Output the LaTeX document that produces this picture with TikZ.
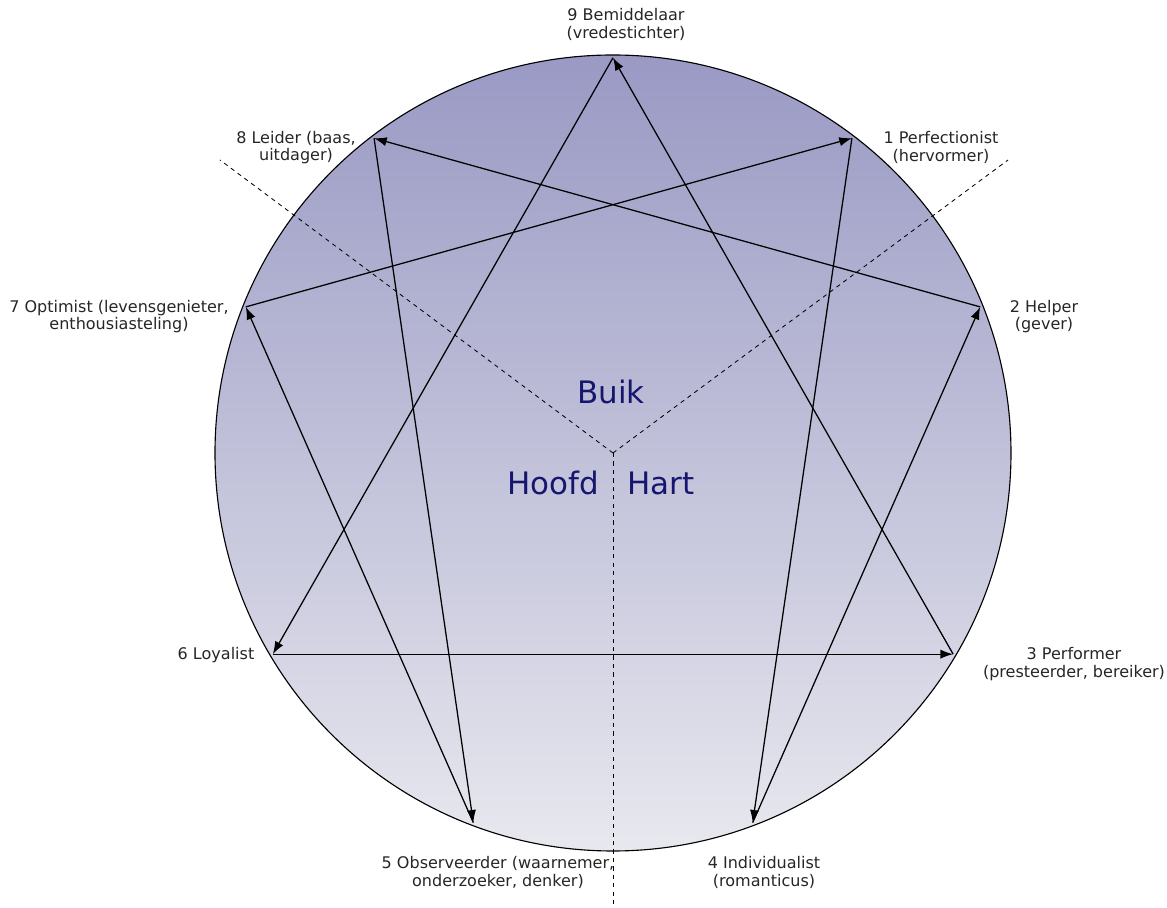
\documentclass[tikz,border=0pt]{standalone}
\usepackage{fontspec}
\setmainfont{DejaVu Sans}
\usetikzlibrary{arrows.meta}
\pgfdeclarelayer{bg}
\pgfsetlayers{bg,main}
\definecolor{ringtop}{RGB}{153,153,196}
\definecolor{ringbot}{RGB}{232,232,239}
\definecolor{centrenavy}{RGB}{22,22,110}
\tikzset{
    typelabel/.style={align=center, inner sep=0mm, text=black!85, font=\fontsize{11.4}{12.3}\selectfont},
    centrelabel/.style={inner sep=0mm, text=centrenavy, font=\fontsize{22}{24}\selectfont},
    link/.style={line width=0.9pt, -{Latex[length=9pt,width=6.5pt]}},
    split/.style={line width=0.6pt, dash pattern=on 3pt off 3pt}
}

\begin{document}
\begin{tikzpicture}
        \useasboundingbox (-15.325cm, 11.325cm) rectangle (13.850cm, -11.375cm);
        % points on the ring
        \coordinate (p9) at (90:9.88cm);
        \coordinate (p1) at (52.8:9.88cm);
        \coordinate (p2) at (21.7:9.88cm);
        \coordinate (p3) at (-30.6:9.88cm);
        \coordinate (p4) at (-69.3:9.88cm);
        \coordinate (p5) at (-110.7:9.88cm);
        \coordinate (p6) at (-149.4:9.88cm);
        \coordinate (p7) at (158.3:9.88cm);
        \coordinate (p8) at (127.2:9.88cm);
        \coordinate (mid) at (0cm, 0cm);
        \coordinate (e8) at (-9.825cm, 7.325cm);
        \coordinate (e1) at (9.875cm, 7.325cm);
        \coordinate (e5) at (0cm, -11.375cm);
        % types
        \node (t9) [typelabel] at (0.325cm, 10.710cm) {9 Bemiddelaar\\(vredestichter)};
        \node (t1) [typelabel] at (8.200cm, 7.640cm) {1 Perfectionist\\(hervormer)};
        \node (t2) [typelabel] at (10.775cm, 3.410cm) {2 Helper\\(gever)};
        \node (t3) [typelabel] at (11.525cm, -5.275cm) {3 Performer\\(presteerder, bereiker)};
        \node (t4) [typelabel] at (3.775cm, -10.490cm) {4 Individualist\\(romanticus)};
        \node (t5) [typelabel] at (-2.875cm, -10.490cm) {5 Observeerder (waarnemer,\\onderzoeker, denker)};
        \node (t6) [typelabel] at (-9.925cm, -5.050cm) {6 Loyalist};
        \node (t7) [typelabel] at (-12.350cm, 3.410cm) {7 Optimist (levensgenieter,\\enthousiasteling)};
        \node (t8) [typelabel] at (-7.925cm, 7.640cm) {8 Leider (baas,\\uitdager)};
        % centres
        \node (buik) [centrelabel] at (-0.050cm, 1.525cm) {Buik};
        \node (hoofd) [centrelabel] at (-1.500cm, -0.750cm) {Hoofd};
        \node (hart) [centrelabel] at (1.200cm, -0.750cm) {Hart};
        \begin{pgfonlayer}{bg}
                \shadedraw [top color=ringtop, bottom color=ringbot, draw=black, line width=0.8pt] (mid) circle (9.95cm);
                \draw [split] (mid) -- (e8);
                \draw [split] (mid) -- (e1);
                \draw [split] (mid) -- (e5);
        \end{pgfonlayer}
        \draw [link] (p9) -- (p6);
        \draw [link] (p6) -- (p3);
        \draw [link] (p3) -- (p9);
        \draw [link] (p1) -- (p4);
        \draw [link] (p4) -- (p2);
        \draw [link] (p2) -- (p8);
        \draw [link] (p8) -- (p5);
        \draw [link] (p5) -- (p7);
        \draw [link] (p7) -- (p1);
\end{tikzpicture}
\end{document}
